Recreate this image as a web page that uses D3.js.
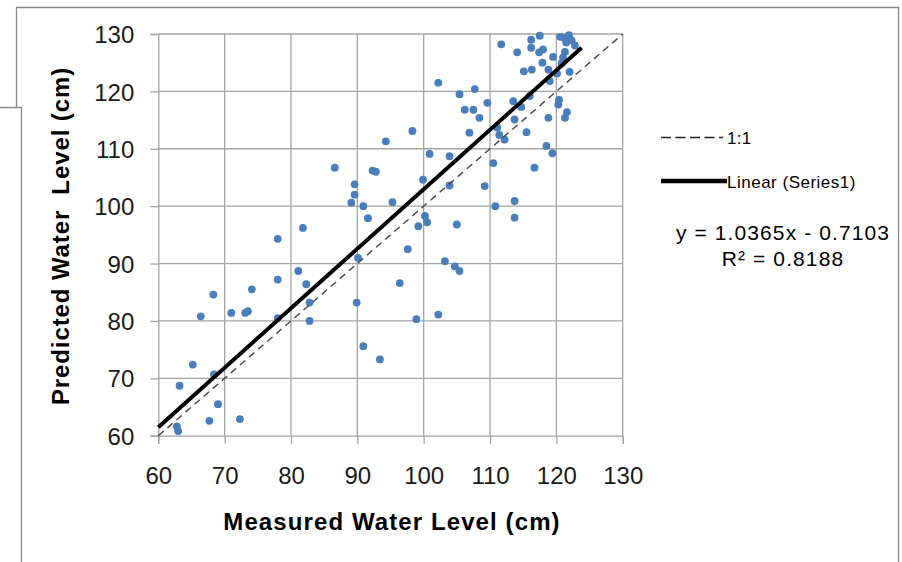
<!DOCTYPE html>
<html>
<head>
<meta charset="utf-8">
<script src="https://cdn.jsdelivr.net/npm/d3@7"></script>
<style>
	body { margin: 0; background: #fff; }
	svg { display: block; font-family: "Liberation Sans", Arial, sans-serif; }
	.grid line { stroke: #a3a3a3; stroke-width: 1.3; }
	.tick text { fill: #1a1a1a; }
</style>
</head>
<body>
<div id="chart"></div>
<script type="text/javascript">
(function() {
	'use strict';

	// measured (x) and predicted (y) water levels
	var measured = [
		94.3, 86.6, 92.3, 92.8, 89.6, 89.6, 89.1, 90.9, 91.6, 81.8,
		78.0, 95.3, 98.3, 102.2, 105.4, 107.7, 106.2, 107.5, 109.6, 108.4,
		106.9, 111.7, 116.2, 117.5, 114.1, 116.2, 117.4, 118.0, 117.9, 115.1,
		116.3, 118.8, 119.0, 120.6, 121.9, 122.3, 122.8, 121.3, 121.0, 120.8,
		122.0, 120.1, 113.5, 116.0, 114.7, 113.7, 118.8, 120.4, 120.3, 121.6,
		121.3, 111.1, 111.4, 112.2, 115.5, 118.5, 119.4, 100.9, 103.9, 110.5,
		116.7, 99.9, 103.9, 109.2, 110.8, 113.7, 113.7, 100.2, 100.5, 99.2,
		105.0, 81.1, 78.0, 82.3, 68.3, 74.1, 82.8, 89.9, 90.1, 66.4,
		71.0, 73.1, 73.5, 78.0, 82.8, 90.9, 93.4, 65.2, 68.4, 63.2,
		69.0, 67.7, 72.3, 62.8, 63.0, 97.6, 103.2, 104.7, 105.4, 96.4,
		102.2, 98.9, 121.2, 119.5, 121.5
	];
	var predicted = [
		111.3, 106.7, 106.2, 106.0, 103.8, 102.0, 100.6, 100.0, 97.9, 96.2,
		94.3, 100.7, 113.1, 121.5, 119.5, 120.4, 116.8, 116.8, 118.0, 115.4,
		112.8, 128.2, 129.0, 129.7, 126.8, 127.6, 126.8, 127.3, 125.0, 123.5,
		123.8, 123.8, 121.8, 129.5, 129.8, 128.9, 128.0, 126.9, 125.9, 124.9,
		123.4, 123.1, 118.3, 119.2, 117.3, 115.1, 115.4, 118.5, 117.7, 116.4,
		115.4, 113.7, 112.4, 111.6, 112.9, 110.5, 109.2, 109.1, 108.7, 107.5,
		106.7, 104.6, 103.6, 103.5, 100.0, 100.9, 98.0, 98.3, 97.2, 96.5,
		96.8, 88.7, 87.2, 86.4, 84.6, 85.5, 83.2, 83.2, 91.0, 80.8,
		81.4, 81.4, 81.7, 80.5, 80.0, 75.6, 73.3, 72.4, 70.7, 68.7,
		65.5, 62.6, 62.9, 61.6, 60.8, 92.5, 90.4, 89.5, 88.7, 86.6,
		81.1, 80.3, 129.3, 126.0, 128.5
	];

	var ticks = [60, 70, 80, 90, 100, 110, 120, 130];
	var slope = 1.0365, intercept = -0.7103;
	var trendRange = [60, 123.8];
	var oneToOne = [60, 130];
	var equationText = 'y = 1.0365x - 0.7103';
	var r2Text = 'R\u00b2 = 0.8188';

	var w = 902, h = 562;

	var svg = d3.select('#chart')
		.append('svg')
		.attr('width', w)
		.attr('height', h);

	// outer frame (two overlapping boxes like the screenshot)
	svg.append('path')
		.attr('d', 'M16.5,107.5 V7.5 H898.5 V562 M0,107.5 H21.5 V562')
		.attr('fill', 'none')
		.attr('stroke', '#8a8a8a')
		.attr('stroke-width', 1.3);

	var x = d3.scaleLinear().domain([60, 130]).range([158.3, 622.7]);
	var y = d3.scaleLinear().domain([60, 130]).range([435.7, 34]);

	// gridlines
	var grid = svg.append('g').attr('class', 'grid');
	grid.selectAll('.gx')
		.data(ticks.slice(1))
		.enter()
		.append('line')
		.attr('x1', function(d) { return x(d); })
		.attr('x2', function(d) { return x(d); })
		.attr('y1', y(60))
		.attr('y2', y(130));
	grid.selectAll('.gy')
		.data(ticks.slice(1))
		.enter()
		.append('line')
		.attr('y1', function(d) { return y(d); })
		.attr('y2', function(d) { return y(d); })
		.attr('x1', x(60))
		.attr('x2', x(130));

	var xAxis = svg.append('g')
		.attr('transform', 'translate(0,' + y(60) + ')')
		.call(d3.axisBottom(x).tickValues(ticks).tickSize(8).tickPadding(14));
	var yAxis = svg.append('g')
		.attr('transform', 'translate(' + x(60) + ',0)')
		.call(d3.axisLeft(y).tickValues(ticks).tickSize(8).tickPadding(16));

	[xAxis, yAxis].forEach(function(a) {
		a.selectAll('.domain').attr('stroke', '#a3a3a3').attr('stroke-width', 1.3);
		a.selectAll('.tick line').attr('stroke', '#a3a3a3').attr('stroke-width', 1.3);
		a.selectAll('.tick text')
			.style('font-size', '24px')
			.style('font-family', '"Liberation Sans", Arial, sans-serif');
	});
	xAxis.selectAll('.tick text').attr('dy', '26px');
	yAxis.selectAll('.tick text').attr('dy', '0.36em');

	// points
	var pts = d3.range(measured.length).map(function(i) {
		return { m: measured[i], p: predicted[i] };
	});
	svg.append('g')
		.selectAll('circle')
		.data(pts)
		.enter()
		.append('circle')
		.attr('cx', function(d) { return x(d.m); })
		.attr('cy', function(d) { return y(d.p); })
		.attr('r', 3.9)
		.attr('fill', '#4a7ebb');

	// 1:1 line
	svg.append('line')
		.attr('x1', x(oneToOne[0])).attr('y1', y(oneToOne[0]))
		.attr('x2', x(oneToOne[1])).attr('y2', y(oneToOne[1]))
		.attr('stroke', '#444')
		.attr('stroke-width', 1.4)
		.attr('stroke-dasharray', '7,5');

	// linear trendline
	svg.append('line')
		.attr('x1', x(trendRange[0])).attr('y1', y(slope * trendRange[0] + intercept))
		.attr('x2', x(trendRange[1])).attr('y2', y(slope * trendRange[1] + intercept))
		.attr('stroke', '#000')
		.attr('stroke-width', 4);

	// axis titles
	svg.append('text')
		.attr('x', 392)
		.attr('y', 530)
		.attr('text-anchor', 'middle')
		.style('font-size', '24px')
		.style('font-weight', 'bold')
		.style('letter-spacing', '1.1px')
		.text('Measured Water Level (cm)');
	svg.append('text')
		.attr('transform', 'translate(69,236) rotate(-90)')
		.attr('text-anchor', 'middle')
		.style('font-size', '24px')
		.style('font-weight', 'bold')
		.style('letter-spacing', '0.9px')
		.style('white-space', 'pre')
		.text('Predicted Water  Level (cm)');

	// legend
	var leg = svg.append('g');
	leg.append('line')
		.attr('x1', 661).attr('x2', 723)
		.attr('y1', 137.5).attr('y2', 137.5)
		.attr('stroke', '#222')
		.attr('stroke-width', 1.5)
		.attr('stroke-dasharray', '10,4.5');
	leg.append('text')
		.attr('x', 727).attr('y', 144)
		.style('font-size', '17px')
		.style('letter-spacing', '0.3px')
		.text('1:1');
	leg.append('line')
		.attr('x1', 661).attr('x2', 727)
		.attr('y1', 181).attr('y2', 181)
		.attr('stroke', '#000')
		.attr('stroke-width', 4.5);
	leg.append('text')
		.attr('x', 727).attr('y', 188)
		.style('font-size', '17px')
		.style('letter-spacing', '0.5px')
		.text('Linear (Series1)');

	// regression equation
	svg.append('text')
		.attr('x', 783).attr('y', 240)
		.attr('text-anchor', 'middle')
		.style('font-size', '21px')
		.style('letter-spacing', '1.1px')
		.text(equationText);
	svg.append('text')
		.attr('x', 783).attr('y', 265.5)
		.attr('text-anchor', 'middle')
		.style('font-size', '21px')
		.style('letter-spacing', '1.1px')
		.text(r2Text);

}());
</script>
</body>
</html>
